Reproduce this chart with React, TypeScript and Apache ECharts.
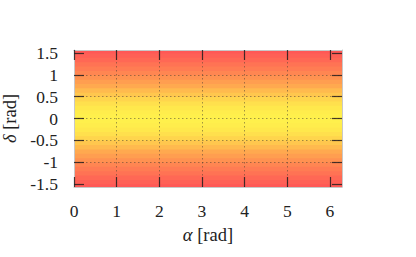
import React, { useEffect, useRef } from "react";
import * as echarts from "echarts";

// α range (rad) and δ range (rad)
const alphaMin = 0;
const alphaMax = 6.2832;
const deltaMin = -1.5708;
const deltaMax = 1.5708;

// tick labels
const alphaTicks = [0, 1, 2, 3, 4, 5, 6];
const deltaTicks = [-1.5, -1, -0.5, 0, 0.5, 1, 1.5];

// horizontal bands of the map: lower/upper δ edges and intensity
const bandLow = [
  -1.6, -1.5, -1.4, -1.3, -1.2, -1.1, -1.0, -0.9, -0.8, -0.7, -0.6, -0.5, -0.4, -0.3, -0.2, -0.1,
  0.0, 0.1, 0.2, 0.3, 0.4, 0.5, 0.6, 0.7, 0.8, 0.9, 1.0, 1.1, 1.2, 1.3, 1.4, 1.5,
];
const bandHigh = [
  -1.5, -1.4, -1.3, -1.2, -1.1, -1.0, -0.9, -0.8, -0.7, -0.6, -0.5, -0.4, -0.3, -0.2, -0.1, 0.0,
  0.1, 0.2, 0.3, 0.4, 0.5, 0.6, 0.7, 0.8, 0.9, 1.0, 1.1, 1.2, 1.3, 1.4, 1.5, 1.6,
];
const bandValue = [
  0.02, 0.12, 0.22, 0.32, 0.41, 0.5, 0.58, 0.66, 0.73, 0.8, 0.85, 0.9, 0.94, 0.97, 0.99, 1.0,
  1.0, 0.99, 0.97, 0.94, 0.9, 0.85, 0.8, 0.73, 0.66, 0.58, 0.5, 0.41, 0.32, 0.22, 0.12, 0.02,
];

const FONT = "'Liberation Serif', 'DejaVu Serif', serif";
const isTick = (v: number, list: number[]) => list.some((t) => Math.abs(t - v) < 1e-6);

export default function App() {
  const ref = useRef<HTMLDivElement>(null);
  useEffect(() => {
    document.body.style.margin = "0";
    const chart = echarts.init(ref.current!, null, { renderer: "svg" });
    const data = bandLow.map((lo, i) => [alphaMin, alphaMax, lo, bandHigh[i], bandValue[i]]);
    const gridLine = { show: true, showMinLine: false, showMaxLine: false, lineStyle: { color: "rgba(70,60,50,0.5)", type: [1.5, 2.5], width: 1 } };
    const axisLine = { show: true, onZero: false, lineStyle: { color: "#c8c8c8", width: 1 } };
    const tick = { show: true, inside: true, length: 10, lineStyle: { color: "rgba(40,30,30,0.85)", width: 1.2 } };
    const labelStyle = { fontFamily: FONT, fontSize: 17.5, color: "#222" };
    const nameStyle = { fontFamily: FONT, fontSize: 18.5, color: "#222" };
    chart.setOption({
      animation: false,
      grid: { left: 74, top: 50, width: 268, height: 137, containLabel: false, outerBoundsMode: "none" },
      visualMap: {
        type: "continuous",
        show: false,
        min: 0,
        max: 1,
        dimension: 4,
        seriesIndex: 0,
        inRange: { color: ["#ff5656", "#ff6b55", "#ff8652", "#ffac4f", "#fff04c"] },
      },
      xAxis: [
        {
          type: "value",
          position: "bottom",
          min: alphaMin,
          max: alphaMax,
          z: 5,
          axisLine,
          axisTick: { ...tick, customValues: alphaTicks },
          axisLabel: { ...labelStyle, margin: 15, customValues: alphaTicks, formatter: (v: number) => (isTick(v, alphaTicks) ? String(v) : "") },
          splitLine: gridLine,
          name: "{i|α} [rad]",
          nameLocation: "middle",
          nameGap: 38,
          nameTextStyle: { ...nameStyle, rich: { i: { ...nameStyle, fontStyle: "italic" } } },
        },
        {
          type: "value",
          position: "top",
          min: alphaMin,
          max: alphaMax,
          z: 5,
          axisLine,
          axisTick: { ...tick, customValues: alphaTicks },
          axisLabel: { show: false, customValues: alphaTicks },
          splitLine: { show: false },
        },
      ],
      yAxis: [
        {
          type: "value",
          position: "left",
          min: deltaMin,
          max: deltaMax,
          z: 5,
          axisLine,
          axisTick: { ...tick, customValues: deltaTicks },
          axisLabel: { ...labelStyle, margin: 16, customValues: deltaTicks, formatter: (v: number) => (isTick(v, deltaTicks) ? String(v) : "") },
          splitLine: gridLine,
          name: "{i|δ} [rad]",
          nameLocation: "middle",
          nameGap: 53,
          nameTextStyle: { ...nameStyle, rich: { i: { ...nameStyle, fontStyle: "italic" } } },
        },
        {
          type: "value",
          position: "right",
          min: deltaMin,
          max: deltaMax,
          z: 5,
          axisLine,
          axisTick: { ...tick, customValues: deltaTicks },
          axisLabel: { show: false, customValues: deltaTicks },
          splitLine: { show: false },
        },
      ],
      series: [
        {
          type: "custom",
          xAxisIndex: 0,
          yAxisIndex: 0,
          z: 1,
          encode: { x: [0, 1], y: [2, 3] },
          data,
          renderItem: (params: any, api: any) => {
            const p0 = api.coord([api.value(0), api.value(3)]);
            const p1 = api.coord([api.value(1), api.value(2)]);
            const cs = params.coordSys;
            const shape = echarts.graphic.clipRectByRect(
              { x: p0[0], y: p0[1] - 0.4, width: p1[0] - p0[0], height: p1[1] - p0[1] + 0.8 },
              { x: cs.x, y: cs.y, width: cs.width, height: cs.height }
            );
            if (!shape) return null;
            return { type: "rect", shape, style: { fill: api.visual("color") } };
          },
        },
      ],
    });
    return () => chart.dispose();
  }, []);
  return <div ref={ref} style={{ width: 416, height: 257 }} />;
}
